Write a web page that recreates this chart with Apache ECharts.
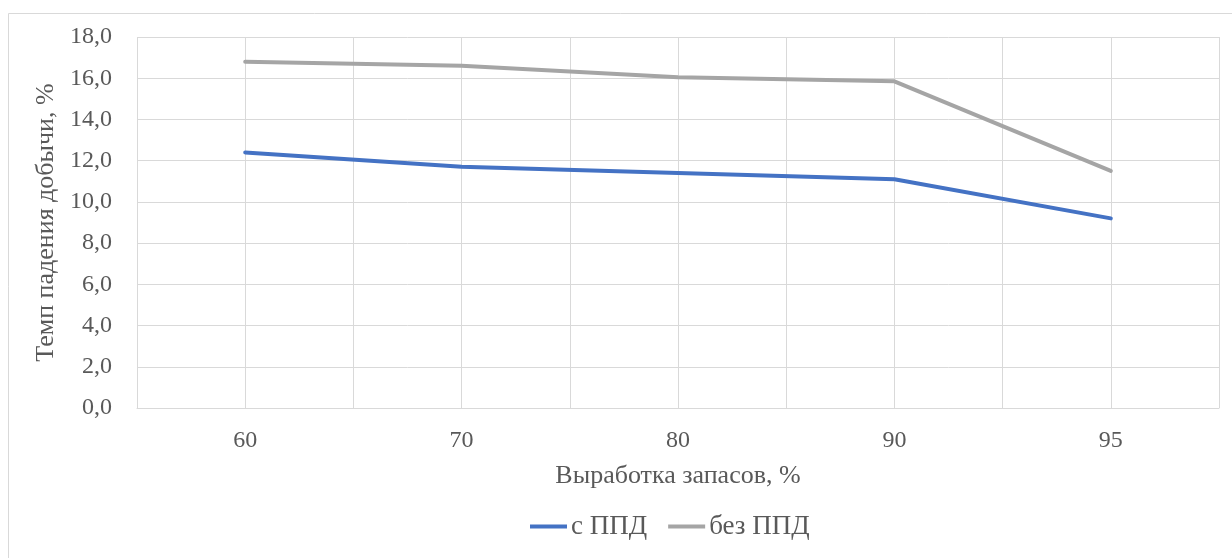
<!DOCTYPE html>
<html>
<head>
<meta charset="utf-8">
<script src="https://cdn.jsdelivr.net/npm/echarts@6/dist/echarts.min.js"></script>
<style>
  html, body { margin: 0; padding: 0; background: #ffffff; }
  #chart { width: 1232px; height: 558px; }
</style>
</head>
<body>
<div id="chart"></div>
<script>
const categories = ['60', '70', '80', '90', '95'];
const seriesWithPPD = [12.4, 11.7, 11.4, 11.1, 9.2];
const seriesWithoutPPD = [16.8, 16.6, 16.05, 15.85, 11.5];
const seriesNames = ['с ППД', 'без ППД'];
const yTicks = { min: 0, max: 18, interval: 2 };

const FONT = '"Liberation Serif", "Times New Roman", serif';
const TEXT = '#595959';
const GRID = '#d9d9d9';

// helper axis: two slots per category, so split lines fall on category centres and boundaries
const gridSlots = categories.flatMap(c => [c + '_a', c + '_b']);

const chart = echarts.init(document.getElementById('chart'), null, { renderer: 'canvas' });

chart.setOption({
  backgroundColor: '#ffffff',
  animation: false,
  graphic: [{
    type: 'rect',
    shape: { x: 8.5, y: 13.5, width: 1260, height: 600 },
    style: { fill: 'none', stroke: GRID, lineWidth: 1 },
    silent: true,
    z: -10
  }],
  grid: { left: 137, right: 13, top: 37, bottom: 150, containLabel: false },
  legend: {
    data: seriesNames,
    top: 508,
    left: 525,
    icon: 'rect',
    itemWidth: 37,
    itemHeight: 4,
    itemGap: 21,
    textStyle: { fontFamily: FONT, fontSize: 27, color: TEXT, padding: [0, 0, 0, -1] }
  },
  xAxis: [{
    type: 'category',
    data: categories,
    boundaryGap: true,
    name: 'Выработка запасов, %',
    nameLocation: 'middle',
    nameGap: 55,
    nameTextStyle: { fontFamily: FONT, fontSize: 26, color: TEXT },
    axisLine: { show: true, lineStyle: { color: GRID, width: 1 } },
    axisTick: { show: false },
    axisLabel: { fontFamily: FONT, fontSize: 24, color: TEXT, margin: 21, interval: 0 },
    splitLine: { show: false }
  }, {
    type: 'category',
    data: gridSlots,
    boundaryGap: true,
    show: true,
    axisLine: { show: false },
    axisTick: { show: false, interval: 0 },
    axisLabel: { show: false, interval: 0 },
    splitLine: { show: true, interval: 0, lineStyle: { color: GRID, width: 1 } }
  }],
  yAxis: {
    type: 'value',
    min: yTicks.min,
    max: yTicks.max,
    interval: yTicks.interval,
    name: 'Темп падения добычи, %',
    nameLocation: 'middle',
    nameGap: 76,
    nameTextStyle: { fontFamily: FONT, fontSize: 26, color: TEXT },
    axisLine: { show: false },
    axisTick: { show: false },
    axisLabel: {
      fontFamily: FONT, fontSize: 24, color: TEXT, margin: 25,
      formatter: v => v.toFixed(1).replace('.', ',')
    },
    splitLine: { show: true, lineStyle: { color: GRID, width: 1 } }
  },
  series: [{
    name: seriesNames[0],
    type: 'line',
    xAxisIndex: 0,
    data: seriesWithPPD,
    symbol: 'none',
    smooth: false,
    lineStyle: { color: '#4472C4', width: 4, cap: 'round', join: 'round' },
    itemStyle: { color: '#4472C4' },
    z: 3
  }, {
    name: seriesNames[1],
    type: 'line',
    xAxisIndex: 0,
    data: seriesWithoutPPD,
    symbol: 'none',
    smooth: false,
    lineStyle: { color: '#A5A5A5', width: 4, cap: 'round', join: 'round' },
    itemStyle: { color: '#A5A5A5' },
    z: 3
  }]
});
</script>
</body>
</html>
